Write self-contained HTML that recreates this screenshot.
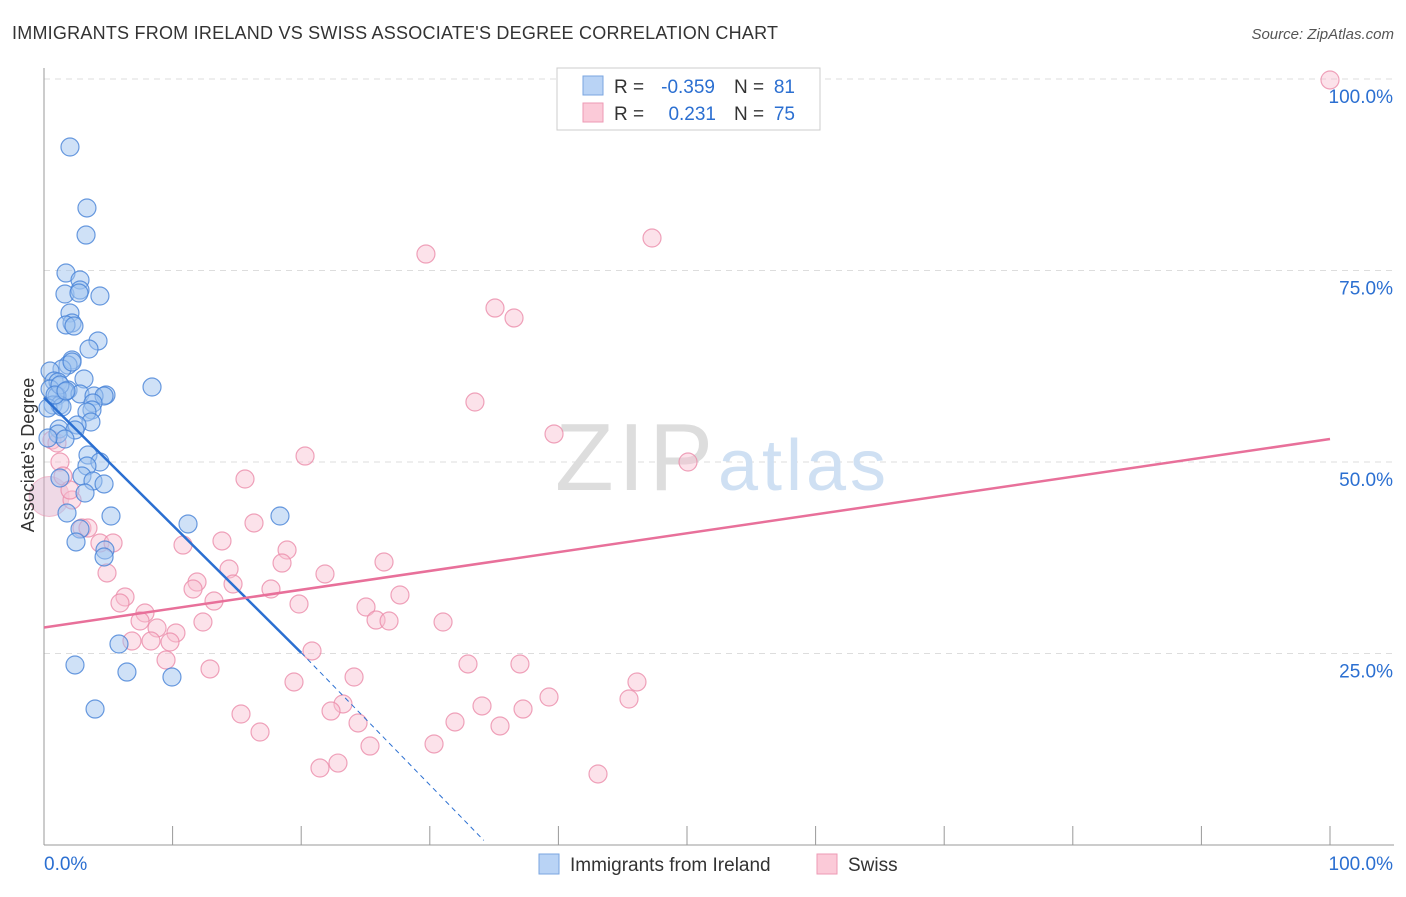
<!DOCTYPE html>
<html><head><meta charset="utf-8"><style>
body{margin:0;background:#fff;font-family:"Liberation Sans",sans-serif;}
svg text{font-family:"Liberation Sans",sans-serif;}
</style></head><body>
<svg id="chart" width="1406" height="892" xmlns="http://www.w3.org/2000/svg">
<text x="12" y="39" font-size="18" fill="#333" textLength="766">IMMIGRANTS FROM IRELAND VS SWISS ASSOCIATE'S DEGREE CORRELATION CHART</text>
<text x="1394" y="39" font-size="15" fill="#555" font-style="italic" text-anchor="end">Source: ZipAtlas.com</text>
<g id="grid"></g>
<g id="axes"></g>
<text x="555" y="490" font-size="96" fill="#ddd" font-family="Liberation Serif" textLength="158">ZIP</text>
<text x="718" y="490" font-size="72" fill="#cfe0f3" textLength="168">atlas</text>
<g id="pink"></g>
<g id="blue"></g>
<g id="lines"></g>
<text x="34" y="455" font-size="18" fill="#333" text-anchor="middle" transform="rotate(-90 34 455)">Associate's Degree</text>
<g>
<rect x="557" y="68" width="263" height="62" fill="#fff" stroke="#ccc"/>
<rect x="583" y="76" width="20" height="19" fill="#b9d3f5" stroke="#7aa6e0"/>
<rect x="583" y="103" width="20" height="19" fill="#fbcad8" stroke="#ee9ab4"/>
<text x="614" y="93" font-size="19" fill="#333">R =</text>
<text x="715" y="93" font-size="19" fill="#2b6fd1" text-anchor="end">-0.359</text>
<text x="734" y="93" font-size="19" fill="#333">N =</text>
<text x="795" y="93" font-size="19" fill="#2b6fd1" text-anchor="end">81</text>
<text x="614" y="120" font-size="19" fill="#333">R =</text>
<text x="716" y="120" font-size="19" fill="#2b6fd1" text-anchor="end">0.231</text>
<text x="734" y="120" font-size="19" fill="#333">N =</text>
<text x="795" y="120" font-size="19" fill="#2b6fd1" text-anchor="end">75</text>
</g>
<g>
<rect x="539" y="854" width="20" height="20" fill="#b9d3f5" stroke="#7aa6e0"/>
<text x="570" y="871" font-size="19" fill="#333">Immigrants from Ireland</text>
<rect x="817" y="854" width="20" height="20" fill="#fbcad8" stroke="#ee9ab4"/>
<text x="848" y="871" font-size="19" fill="#333">Swiss</text>
</g>
</svg>
<script>
const yTicks=[25,50,75,100];
const yTickLabels=["25.0%","50.0%","75.0%","100.0%"];
const xTickLabels=["0.0%","100.0%"];
const bluePx=[[70,147],[87,208],[86,235],[66,273],[80,280],[65,294],[80,290],[79,293],[100,296],[70,313],[72,323],[66,325],[74,326],[98,341],[89,349],[72,360],[68,365],[62,369],[50,371],[84,379],[54,381],[58,382],[152,387],[50,389],[68,390],[65,392],[106,395],[80,394],[94,396],[57,396],[104,396],[93,403],[53,405],[60,405],[92,410],[87,412],[48,408],[62,407],[91,422],[77,425],[59,429],[75,430],[58,434],[65,439],[48,438],[88,455],[100,462],[87,466],[60,478],[82,476],[93,481],[104,484],[85,493],[67,513],[111,516],[188,524],[280,516],[80,529],[76,542],[105,550],[104,557],[119,644],[75,665],[127,672],[172,677],[95,709],[60,385],[55,395],[72,362],[66,391]];
const pinkPx=[[1330,80],[652,238],[426,254],[495,308],[514,318],[475,402],[554,434],[688,462],[305,456],[245,479],[60,462],[63,476],[72,500],[70,490],[52,440],[57,443],[82,528],[88,528],[100,543],[113,543],[183,545],[254,523],[222,541],[287,550],[107,573],[282,563],[229,569],[325,574],[384,562],[197,582],[193,589],[233,584],[271,589],[214,601],[125,597],[120,603],[145,613],[299,604],[400,595],[366,607],[376,620],[389,621],[443,622],[140,621],[157,628],[176,633],[132,641],[151,641],[170,642],[203,622],[312,651],[166,660],[210,669],[468,664],[520,664],[354,677],[294,682],[637,682],[549,697],[629,699],[343,704],[482,706],[523,709],[331,711],[455,722],[241,714],[358,723],[500,726],[260,732],[370,746],[434,744],[338,763],[320,768],[598,774]];
const blueX=bluePx.map(p=>+((p[0]-44)/12.86).toFixed(2));
const blueY=bluePx.map(p=>+((845-p[1])/7.66).toFixed(2));
const pinkX=pinkPx.map(p=>+((p[0]-44)/12.86).toFixed(2));
const pinkY=pinkPx.map(p=>+((845-p[1])/7.66).toFixed(2));
const blueTrend=[[0,58.4],[20,25.1],[34.2,0.6]];
const pinkTrend=[[0,28.4],[100,53.0]];
const NS="http://www.w3.org/2000/svg";
const sx=v=>44+v*12.86, sy=v=>845-v*7.66;
function mk(t,a,p){const e=document.createElementNS(NS,t);for(const k in a)e.setAttribute(k,a[k]);p.appendChild(e);return e;}
const grid=document.getElementById('grid'),axes=document.getElementById('axes');
yTicks.forEach((v,i)=>{
 const l=mk('line',{x1:44,x2:1394,y1:sy(v),y2:sy(v),stroke:'#ddd','stroke-dasharray':'6,5'},grid);
 
 
 const t=mk('text',{x:1393,y:sy(v)+24,'font-size':19,fill:'#2b6fd1','text-anchor':'end'},axes);t.textContent=yTickLabels[i];
 
 
});
mk('line',{x1:44,x2:44,y1:68,y2:845,stroke:'#999'},axes);
mk('line',{x1:44,x2:1394,y1:845,y2:845,stroke:'#999'},axes);
for(let i=0;i<=10;i++){mk('line',{x1:sx(i*10),x2:sx(i*10),y1:826,y2:845,stroke:'#999'},axes);}
[[0,'start',44],[1,'end',1393]].forEach(([i,a,x])=>{const t=mk('text',{x:x,y:870,'font-size':19,fill:'#2b6fd1','text-anchor':a},axes);t.textContent=xTickLabels[i];
 
 });
const pg=document.getElementById('pink'),bg=document.getElementById('blue');
const bigP=mk('circle',{cx:sx(0.4),cy:sy(45.5),r:20,fill:'rgba(220,170,200,0.45)',stroke:'rgba(235,140,170,0.5)'},pg);


pinkX.forEach((x,i)=>{const c=mk('circle',{cx:sx(x),cy:sy(pinkY[i]),r:9,fill:'rgba(248,190,208,0.45)',stroke:'rgba(235,140,170,0.8)','stroke-width':1.2},pg);
 
 });
blueX.forEach((x,i)=>{const c=mk('circle',{cx:sx(x),cy:sy(blueY[i]),r:9,fill:'rgba(160,195,240,0.5)',stroke:'rgba(70,130,215,0.8)','stroke-width':1.2},bg);
 
 });
const lg=document.getElementById('lines');
let l1=mk('line',{x1:sx(blueTrend[0][0]),y1:sy(blueTrend[0][1]),x2:sx(blueTrend[1][0]),y2:sy(blueTrend[1][1]),stroke:'#2b6fd1','stroke-width':2.5},lg);


let l2=mk('line',{x1:sx(blueTrend[1][0]),y1:sy(blueTrend[1][1]),x2:sx(blueTrend[2][0]),y2:sy(blueTrend[2][1]),stroke:'#2b6fd1','stroke-width':1,'stroke-dasharray':'5,4'},lg);


let l3=mk('line',{x1:sx(pinkTrend[0][0]),y1:sy(pinkTrend[0][1]),x2:sx(pinkTrend[1][0]),y2:sy(pinkTrend[1][1]),stroke:'#e8709a','stroke-width':2.5},lg);


</script>
</body></html>
